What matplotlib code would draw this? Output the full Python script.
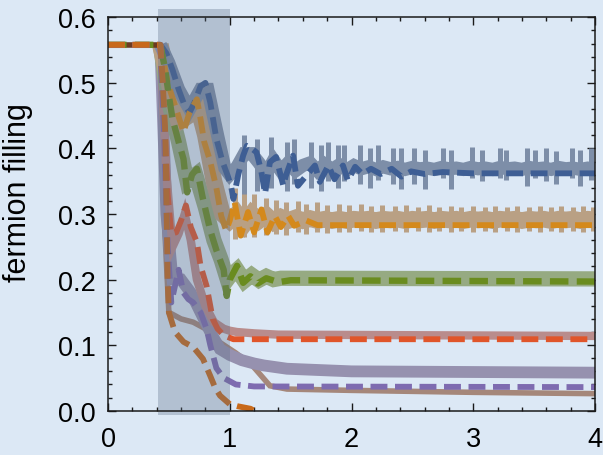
import numpy as np
import matplotlib
matplotlib.use("Agg")
import matplotlib.pyplot as plt
from matplotlib.patches import Rectangle
from matplotlib.collections import LineCollection
from matplotlib.ticker import MultipleLocator

plt.rcParams['font.family'] = ['Liberation Sans', 'DejaVu Sans']

# ---------------- data ----------------
initial_level = 0.558
t_quench = 0.43
shade_start, shade_end = 0.41, 1.0

x_ticks = [0, 1, 2, 3, 4]
y_ticks = [0.0, 0.1, 0.2, 0.3, 0.4, 0.5, 0.6]
x_ticklabels = ["0", "1", "2", "3", "4"]
y_ticklabels = ["0.0", "0.1", "0.2", "0.3", "0.4", "0.5", "0.6"]
ylabel = "fermion filling"

# dashed curves
blue_x = [0, 0.43, 0.48, 0.53, 0.58, 0.63, 0.67, 0.71, 0.76, 0.80, 0.84, 0.89, 0.94, 0.98, 1.01, 1.03,
          1.07, 1.11, 1.14, 1.18, 1.22, 1.26, 1.29, 1.33, 1.38, 1.44, 1.46, 1.52, 1.56, 1.64, 1.70,
          1.74, 1.81, 1.86, 1.93, 1.97, 2.03, 2.09, 2.16, 2.24, 2.33, 2.41, 2.49, 2.60, 2.75, 3.0, 4.0]
blue_y = [0.558, 0.558, 0.545, 0.52, 0.49, 0.465, 0.455, 0.47, 0.495, 0.50, 0.47, 0.415, 0.38, 0.36, 0.343, 0.323,
          0.36, 0.389, 0.404, 0.40, 0.394, 0.364, 0.331, 0.379, 0.387, 0.343, 0.358, 0.389, 0.343, 0.361, 0.374,
          0.349, 0.374, 0.353, 0.374, 0.351, 0.372, 0.361, 0.369, 0.361, 0.369, 0.357, 0.365, 0.361, 0.364, 0.362, 0.362]

orange_x = [0, 0.43, 0.46, 0.49, 0.56, 0.62, 0.67, 0.73, 0.76, 0.79, 0.84, 0.89, 0.93, 0.97, 1.0, 1.04,
            1.09, 1.15, 1.20, 1.26, 1.31, 1.37, 1.42, 1.48, 1.53, 1.63, 1.72, 4.0]
orange_y = [0.558, 0.558, 0.53, 0.50, 0.46, 0.425, 0.455, 0.475, 0.445, 0.41, 0.38, 0.34, 0.297, 0.275, 0.29, 0.318,
            0.267, 0.303, 0.272, 0.307, 0.272, 0.297, 0.280, 0.297, 0.282, 0.290, 0.283, 0.283]

green_x = [0, 0.43, 0.47, 0.50, 0.53, 0.58, 0.62, 0.65, 0.69, 0.73, 0.78, 0.84, 0.89, 0.95, 0.975, 1.0,
           1.06, 1.11, 1.17, 1.23, 1.30, 1.40, 1.50, 4.0]
green_y = [0.558, 0.558, 0.52, 0.48, 0.445, 0.41, 0.384, 0.333, 0.36, 0.369, 0.323, 0.275, 0.245, 0.215, 0.175, 0.20,
           0.221, 0.195, 0.205, 0.194, 0.202, 0.196, 0.199, 0.197]

red_x = [0, 0.43, 0.46, 0.49, 0.52, 0.56, 0.60, 0.64, 0.68, 0.73, 0.76, 0.81, 0.86, 0.90, 0.95, 1.03, 4.0]
red_y = [0.558, 0.558, 0.45, 0.33, 0.27, 0.272, 0.29, 0.313, 0.28, 0.257, 0.221, 0.19, 0.14, 0.125, 0.115, 0.109, 0.109]

purple_x = [0, 0.43, 0.46, 0.49, 0.52, 0.55, 0.58, 0.62, 0.66, 0.70, 0.76, 0.81, 0.84, 0.89, 0.95, 1.05, 1.2, 4.0]
purple_y = [0.558, 0.558, 0.42, 0.25, 0.165, 0.19, 0.215, 0.18, 0.17, 0.165, 0.15, 0.125, 0.10, 0.065, 0.05, 0.04, 0.037, 0.036]

dkorange_x = [0, 0.43, 0.45, 0.47, 0.48, 0.49, 0.50, 0.55, 0.62, 0.70, 0.78, 0.84, 0.88, 0.92, 1.0, 1.06, 1.17, 1.2]
dkorange_y = [0.558, 0.558, 0.50, 0.425, 0.32, 0.20, 0.15, 0.12, 0.105, 0.097, 0.079, 0.053, 0.035, 0.023, 0.010, 0.007, 0.003, 0.0]

# thick bands: transient part (bands start at the quench)
blue_band_x0 = [0.43, 0.50, 0.58, 0.67, 0.76, 0.82, 0.90, 0.96, 1.0]
blue_band_y0 = [0.558, 0.53, 0.49, 0.46, 0.49, 0.49, 0.42, 0.37, 0.36]
orange_band_x0 = [0.43, 0.50, 0.58, 0.66, 0.73, 0.80, 0.87, 0.94, 1.0]
orange_band_y0 = [0.558, 0.50, 0.44, 0.45, 0.47, 0.42, 0.35, 0.30, 0.29]
green_band_x = [0.43, 0.50, 0.58, 0.65, 0.72, 0.80, 0.87, 0.93, 0.98, 1.0, 1.06, 1.12, 1.18, 1.24, 1.30, 1.36, 1.42, 4.0]
green_band_y = [0.558, 0.47, 0.41, 0.35, 0.36, 0.31, 0.26, 0.23, 0.20, 0.205, 0.215, 0.198, 0.207, 0.199, 0.205, 0.200, 0.202, 0.201]
red_band_x = [0.43, 0.48, 0.53, 0.58, 0.63, 0.68, 0.73, 0.80, 0.87, 0.95, 1.0, 1.06, 1.2, 1.4, 4.0]
red_band_y = [0.558, 0.36, 0.25, 0.27, 0.30, 0.26, 0.20, 0.16, 0.135, 0.125, 0.122, 0.12, 0.118, 0.116, 0.114]
purple_band_x = [0.43, 0.48, 0.53, 0.60, 0.68, 0.76, 0.84, 0.92, 1.0, 1.1, 1.2, 1.28, 1.47, 2.0, 4.0]
purple_band_y = [0.558, 0.30, 0.20, 0.20, 0.18, 0.15, 0.12, 0.094, 0.085, 0.077, 0.072, 0.069, 0.064, 0.060, 0.058]
brown_band_x = [0.43, 0.46, 0.50, 0.60, 0.70, 0.80, 0.92, 1.05, 1.19, 1.33, 1.47, 2.0, 3.0, 4.0]
brown_band_y = [0.558, 0.30, 0.15, 0.14, 0.135, 0.125, 0.104, 0.088, 0.068, 0.038, 0.033, 0.031, 0.028, 0.026]

# thick bands: steady part on a regular time grid
steady_t = np.round(np.arange(1.06, 4.001, 0.06), 2)
blue_band_steady = [0.372, 0.392, 0.392, 0.378, 0.362, 0.382, 0.366, 0.378, 0.366, 0.374,
                    0.378, 0.366, 0.376, 0.368, 0.375, 0.367, 0.374, 0.369, 0.372, 0.368,
                    0.372, 0.369, 0.371, 0.368, 0.371, 0.369, 0.370, 0.368, 0.371, 0.369,
                    0.370, 0.368, 0.371, 0.369, 0.370, 0.368, 0.371, 0.369, 0.370, 0.368,
                    0.371, 0.369, 0.370, 0.368, 0.371, 0.369, 0.370, 0.368, 0.370, 0.369]
orange_band_steady = [0.300, 0.285, 0.300, 0.290, 0.298, 0.288, 0.295, 0.290, 0.294, 0.290,
                      0.293, 0.290, 0.292, 0.290, 0.292, 0.290, 0.292, 0.291, 0.292, 0.290,
                      0.292, 0.291, 0.292, 0.290, 0.292, 0.291, 0.292, 0.290, 0.292, 0.291,
                      0.292, 0.290, 0.292, 0.291, 0.292, 0.290, 0.292, 0.291, 0.292, 0.290,
                      0.292, 0.291, 0.292, 0.290, 0.292, 0.291, 0.292, 0.290, 0.292, 0.291]

# fluctuation spikes of the noisy bands
blue_spike_t = [1.12, 1.22, 1.34, 1.47, 1.53, 1.67, 1.75, 1.81, 1.89, 1.94, 2.07, 2.15, 2.22, 2.34, 2.41,
                2.51, 2.60, 2.75, 2.82, 2.99, 3.07, 3.22, 3.27, 3.44, 3.51, 3.60, 3.68, 3.81, 3.88, 3.97]
blue_spike_lo = [0.330, 0.335, 0.340, 0.335, 0.345, 0.340, 0.335, 0.350, 0.340, 0.350, 0.345, 0.340, 0.352, 0.345, 0.338,
                 0.345, 0.338, 0.355, 0.338, 0.355, 0.350, 0.355, 0.352, 0.342, 0.355, 0.350, 0.345, 0.355, 0.342, 0.352]
blue_spike_hi = [0.420, 0.415, 0.418, 0.410, 0.415, 0.410, 0.405, 0.410, 0.405, 0.405, 0.405, 0.400, 0.405, 0.400, 0.400,
                 0.400, 0.398, 0.400, 0.398, 0.402, 0.397, 0.400, 0.398, 0.400, 0.398, 0.400, 0.396, 0.400, 0.397, 0.400]
orange_spike_t = [1.04, 1.12, 1.20, 1.30, 1.38, 1.46, 1.56, 1.63, 1.72, 1.80, 1.90, 1.98, 2.08, 2.16, 2.25, 2.36,
                  2.45, 2.55, 2.64, 2.72, 2.82, 2.90, 3.00, 3.10, 3.18, 3.28, 3.36, 3.46, 3.55, 3.64, 3.72, 3.82, 3.90, 3.98]
orange_spike_lo = [0.262, 0.265, 0.265, 0.268, 0.270, 0.268, 0.272, 0.270, 0.272, 0.271, 0.273, 0.272, 0.274, 0.272, 0.273, 0.274,
                   0.272, 0.274, 0.273, 0.274, 0.272, 0.274, 0.273, 0.274, 0.272, 0.274, 0.273, 0.274, 0.272, 0.274, 0.273, 0.274, 0.272, 0.274]
orange_spike_hi = [0.340, 0.335, 0.330, 0.325, 0.322, 0.318, 0.320, 0.315, 0.318, 0.314, 0.316, 0.313, 0.315, 0.312, 0.314, 0.312,
                   0.313, 0.311, 0.313, 0.311, 0.312, 0.310, 0.312, 0.310, 0.312, 0.311, 0.312, 0.310, 0.312, 0.311, 0.312, 0.310, 0.312, 0.311]

# ---------------- styling ----------------
bg = '#DCE8F5'
c_blue, c_orange, c_green = '#3E5E94', '#D4891C', '#6A8C1F'
c_red, c_purple, c_dkorange = '#E0552A', '#7E6BB0', '#C8691A'
b_blue, b_orange, b_green = '#7D8EA8', '#B9A084', '#96AA82'
b_red, b_purple, b_brown = '#B98C8C', '#9691AF', '#A5877A'

W, H = 603, 456
fig = plt.figure(figsize=(W / 100, H / 100), dpi=100, facecolor=bg)
ax = fig.add_axes([108 / W, 1 - 411.7 / H, 487 / W, 393.4 / H])
ax.set_facecolor(bg)
ax.set_xlim(0, 4)
ax.set_ylim(0, 0.6)

# bands
def band(x0, y0, steady, color, lw, z):
    x = list(x0)
    y = list(y0)
    if len(steady):
        x += list(steady_t)
        y += list(steady)
    ax.plot(x, y, color=color, lw=lw, solid_capstyle='butt', solid_joinstyle='miter', zorder=z)

band(brown_band_x, brown_band_y, [], b_brown, 4.0, 2.0)
band(purple_band_x, purple_band_y, [], b_purple, 8.5, 2.1)
band(red_band_x, red_band_y, [], b_red, 6.0, 2.2)
band(green_band_x, green_band_y, [], b_green, 11.0, 2.3)
band(orange_band_x0, orange_band_y0, orange_band_steady, b_orange, 12.0, 2.4)
band(blue_band_x0, blue_band_y0, blue_band_steady, b_blue, 9.5, 2.5)

def spikes(t, lo, hi, color, z):
    segs = [[(ti, l), (ti, h)] for ti, l, h in zip(t, lo, hi)]
    ax.add_collection(LineCollection(segs, colors=color, linewidths=3.6, zorder=z, capstyle='butt'))

spikes(orange_spike_t, orange_spike_lo, orange_spike_hi, b_orange, 2.4)
spikes(blue_spike_t, blue_spike_lo, blue_spike_hi, b_blue, 2.5)

# overlapping bands before the quench look dark brown
ax.plot([0, t_quench], [initial_level, initial_level], color='#6B3A20', lw=4.0,
        solid_capstyle='butt', zorder=2.9)

# dashed curves
dash = (2.9, 1.3)
for xs_, ys_, c, lw in [(blue_x, blue_y, c_blue, 4.2), (orange_x, orange_y, c_orange, 4.2),
                        (green_x, green_y, c_green, 4.6), (red_x, red_y, c_red, 4.2),
                        (purple_x, purple_y, c_purple, 4.2), (dkorange_x, dkorange_y, c_dkorange, 4.2)]:
    ax.plot(xs_, ys_, color=c, lw=lw, dashes=dash, dash_capstyle='butt', zorder=3)

# shaded quench window (extends slightly above the frame)
ax.add_patch(Rectangle((shade_start, -0.006), shade_end - shade_start, 0.6 + 0.0185,
                       facecolor='#5F708A', edgecolor='none', alpha=0.33, zorder=5, clip_on=False))

# axes styling
for s in ax.spines.values():
    s.set_linewidth(1.1)
    s.set_color('#1a1a1a')
    s.set_zorder(6)
ax.set_xticks(x_ticks)
ax.set_xticklabels(x_ticklabels)
ax.set_yticks(y_ticks)
ax.set_yticklabels(y_ticklabels)
ax.xaxis.set_minor_locator(MultipleLocator(0.2))
ax.yaxis.set_minor_locator(MultipleLocator(0.02))
ax.tick_params(which='both', direction='in', top=True, right=True, color='#1a1a1a', width=1.0)
ax.tick_params(which='major', length=5.5)
ax.tick_params(which='minor', length=2.8)
ax.tick_params(axis='x', which='major', labelsize=19.5, pad=11)
ax.tick_params(axis='y', which='major', labelsize=19.5, pad=9)

fig.text(18 / W, 1 - 192.5 / H, ylabel, rotation=90, ha='center', va='center', fontsize=22)

fig.savefig('out.png', dpi=100, facecolor=bg)
